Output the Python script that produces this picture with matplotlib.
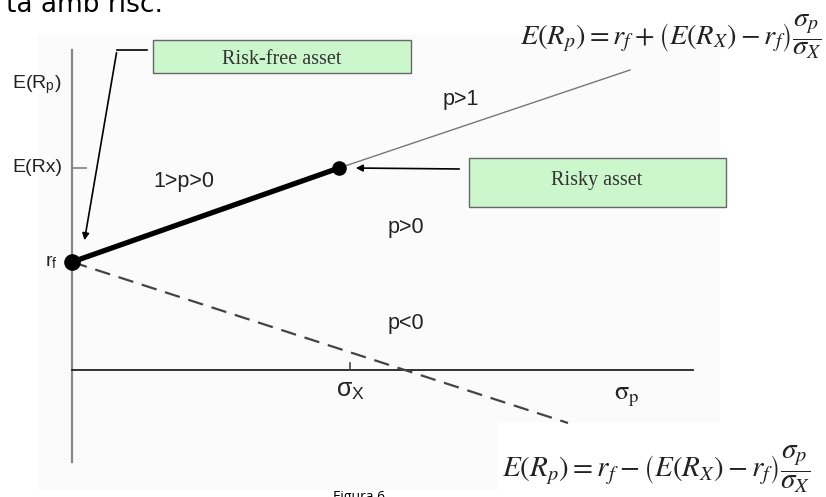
import matplotlib
matplotlib.use("Agg")
import matplotlib.pyplot as plt
from matplotlib.patches import Rectangle

plt.rcParams["mathtext.fontset"] = "stix"

# values (sigma_p on x, E(R_p) on y; origin at the axes crossing)
rf = 108
e_rx = 202
sigma_x = 267
sigma_x_tick = 278

sigma_long = [0, sigma_x]            # 1>p>0 (bold)
er_long = [rf, e_rx]
sigma_lever = [sigma_x, 558]         # p>1 (thin)
er_lever = [e_rx, 300]
sigma_short = [0, 496]               # p<0 (dashed)
er_short = [rf, -53]

y_axis_span = [-92, 320]
x_axis_span = [0, 621]

region_labels = ["1>p>0", "p>1", "p>0", "p<0"]
region_x = [81, 371, 316, 316]
region_y = [188, 270, 143, 47]

fig = plt.figure(figsize=(8.26, 4.97), dpi=100)
ax = fig.add_axes([0, 0, 1, 1])
ax.set_xlim(-72, 754)
ax.set_ylim(-127, 370)
ax.axis("off")

# faint scanned background
ax.add_patch(Rectangle((-34, -120), 682, 455, facecolor="#fbfbfb", edgecolor="none", zorder=0))
ax.add_patch(Rectangle((426, -127), 328, 75, facecolor="white", edgecolor="none", zorder=0))

# axes
ax.plot([0, 0], y_axis_span, color="#888888", lw=1.6, zorder=2)
ax.plot(x_axis_span, [0, 0], color="#222222", lw=1.3, zorder=2)
ax.plot([0, 14], [e_rx, e_rx], color="#888888", lw=1.3, zorder=2)
ax.plot([sigma_x_tick, sigma_x_tick], [0, 7], color="#444444", lw=1.2, zorder=2)

# lines
ax.plot(sigma_lever, er_lever, color="#777777", lw=1.0, zorder=3)
ax.plot(sigma_long, er_long, color="black", lw=3.8, solid_capstyle="butt", zorder=4)
ax.plot(sigma_short, er_short, color="#444444", lw=1.6, dashes=(7, 4), zorder=3)
ax.scatter([0], [rf], s=120, color="black", zorder=5)
ax.scatter([sigma_x], [e_rx], s=90, color="black", zorder=5)

# axis labels
lab_font = dict(family="Liberation Sans", fontsize=14, color="#222222")
ax.text(-60, 285, r"E(R$_\mathregular{p}$)", va="center", ha="left", **lab_font)
ax.text(-60, 202, "E(Rx)", va="center", ha="left", **lab_font)
ax.text(-14, 108, r"r$_\mathregular{f}$", va="center", ha="right", **lab_font)
ax.text(279, -20, r"$\mathregular{\sigma}_\mathregular{X}$", va="center", ha="center",
        family="Liberation Sans", fontsize=18, color="#222222")
ax.text(555, -26, r"$\mathrm{\sigma_p}$", va="center", ha="center", fontsize=19, color="#222222")

for lab, x, y in zip(region_labels, region_x, region_y):
    ax.text(x, y, lab, va="center", ha="left", family="Liberation Sans", fontsize=15.5,
            color="#222222")

# boxes
box_font = dict(family="Liberation Serif", fontsize=14.5, color="#333333")
ax.add_patch(Rectangle((81, 297), 258, 33, facecolor="#ccf7cc", edgecolor="#666666", lw=1.0, zorder=3))
ax.text(210, 311, "Risk-free asset", ha="center", va="center", zorder=4, **box_font)
ax.add_patch(Rectangle((397, 163), 257, 49, facecolor="#ccf7cc", edgecolor="#666666", lw=1.0, zorder=3))
ax.text(525, 189, "Risky asset", ha="center", va="center", zorder=4, **box_font)

# pointers
ax.plot([75, 45], [320, 320], color="black", lw=1.2, zorder=3)
ax.annotate("", xy=(12, 127), xytext=(45, 320),
            arrowprops=dict(arrowstyle="-|>", color="black", lw=1.2, mutation_scale=10))
ax.annotate("", xy=(281, 202), xytext=(390, 201),
            arrowprops=dict(arrowstyle="-|>", color="black", lw=1.2, mutation_scale=10))

# formulas
ax.text(448, 333, r"$E(R_p) = r_f + \left(E(R_X) - r_f\right)\dfrac{\sigma_p}{\sigma_X}$",
        ha="left", va="center", fontsize=20.5, color="#222222")
ax.text(430, -99, r"$E(R_p) = r_f - \left(E(R_X) - r_f\right)\dfrac{\sigma_p}{\sigma_X}$",
        ha="left", va="center", fontsize=21, color="#222222")

# cropped page text
ax.text(-66, 358, "ta amb risc.", ha="left", va="baseline", family="DejaVu Sans",
        fontsize=19, color="black")
ax.text(261, -120, "Figura 6", ha="left", va="top", family="Open Sans", fontsize=10, color="black")

fig.savefig("out.png", dpi=100)
